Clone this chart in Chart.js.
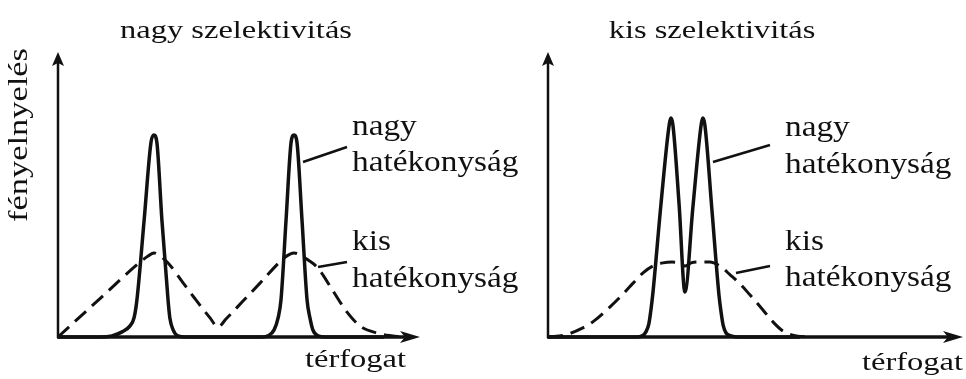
<!DOCTYPE html>
<html>
<head>
<meta charset="utf-8">
<script src="https://cdn.jsdelivr.net/npm/chart.js@4.4.1/dist/chart.umd.min.js"></script>
<style>
  html, body { margin: 0; padding: 0; background: #fff; }
  #wrap { position: relative; width: 966px; height: 379px; }
  #wrap canvas { position: absolute; left: 0; top: 0; }
</style>
</head>
<body>
<div id="wrap">
  <canvas id="left-chart" width="966" height="379"></canvas>
  <canvas id="right-chart" width="966" height="379"></canvas>
</div>
<script>
// texts
const panelTitles = ['nagy szelektivitás', 'kis szelektivitás'];
const seriesNames = ['nagy hatékonyság', 'kis hatékonyság'];
const xAxisLabel = 'térfogat';
const yAxisLabel = 'fényelnyelés';

// left panel: two well separated peaks
const leftSharpX = [0, 11.6, 14.9, 17.7, 19.9, 21.0, 21.8, 23.8, 25.7, 26.5, 27.3, 28.7, 30.4, 30.9, 31.8, 33.1, 35.4,
  56.4, 58.0, 59.7, 60.8, 61.6, 63.0, 64.4, 65.2, 66.0, 67.4, 68.8, 69.6, 70.4, 71.8, 74.0, 90];
const leftSharpY = [0, 0, 0.4, 1.8, 3.9, 6.7, 13.0, 41.1, 68.4, 70.9, 68.4, 41.1, 13.0, 6.7, 2.5, 0.4, 0,
  0, 0.4, 2.5, 6.7, 13.0, 41.1, 68.4, 70.9, 68.4, 41.1, 13.0, 6.7, 2.5, 0.4, 0, 0];
const leftBroadX = [0, 11.6, 22.7, 24.9, 26.5, 28.2, 30.4, 34.5, 37.8, 42.0, 44.2, 46.4, 51.1, 55.8,
  62.4, 64.1, 65.2, 66.9, 69.1, 71.8, 76.0, 79.8, 83.4, 88.1, 93.6, 97.2];
const leftBroadY = [0, 13.5, 26.3, 28.4, 29.5, 28.4, 26.0, 19.1, 13.5, 6.7, 3.5, 6.3, 12.6, 18.9,
  27.7, 29.1, 29.5, 28.8, 27.0, 24.2, 16.1, 8.8, 3.9, 1.4, 0.2, 0];

// right panel: two close peaks
const rightSharpX = [0, 21.2, 22.7, 23.6, 24.3, 24.8, 25.3, 27.2, 29.2, 29.6, 30.1, 31.6, 33.0, 34.9, 36.9, 37.3,
  37.8, 39.5, 41.2, 41.7, 42.2, 42.9, 44.1, 45.8, 60.7];
const rightSharpY = [0, 0, 0.4, 1.8, 4.6, 9.5, 15.8, 46.3, 74.4, 76.8, 74.4, 46.3, 15.8, 45.3, 74.4, 76.8,
  74.4, 44.6, 14.7, 8.8, 4.2, 1.4, 0.4, 0, 0];
const rightBroadX = [0, 4.1, 8.4, 10.8, 14.9, 18.1, 20.5, 22.9, 25.3, 27.7, 29.9, 31.6, 33.0, 34.5, 36.6, 39.0,
  41.4, 43.9, 46.3, 48.7, 51.8, 54.2, 56.6, 59.8, 63.1];
const rightBroadY = [0, 0.7, 3.2, 5.3, 10.5, 15.1, 18.9, 22.5, 24.9, 26.0, 26.3, 26.0, 24.9, 26.0, 26.3, 26.3,
  24.9, 21.8, 18.6, 14.7, 9.5, 5.3, 2.1, 0.4, 0];

const ink = '#111';
const serif = '"Liberation Serif", "Times New Roman", serif';

// where the annotation texts sit on the page
const panelLayout = [
  {
    pad: { left: 58, right: 546, top: 52, bottom: 42 },
    titleAt: [236, 38],
    nameX: 352, nameY: [[135, 171], [250, 287]],
    leaders: [[303, 162, 347, 147], [318, 267, 347, 262]],
    xLabelAt: [305, 367],
    yLabel: true
  },
  {
    pad: { left: 548, right: 3, top: 52, bottom: 42 },
    titleAt: [712, 38],
    nameX: 785, nameY: [[136, 173], [250, 286]],
    leaders: [[713, 162, 770, 145], [736, 273, 770, 266]],
    xLabelAt: [862, 370],
    yLabel: false
  }
];

function points(xs, ys) {
  return xs.map((v, i) => ({ x: v, y: ys[i] }));
}

function drawText(ctx, text, px, py, size, sx, align, angle) {
  ctx.save();
  ctx.translate(px, py);
  if (angle) ctx.rotate(angle);
  ctx.scale(sx, 1);
  ctx.font = `${size}px ${serif}`;
  ctx.textAlign = align;
  ctx.textBaseline = 'alphabetic';
  ctx.fillText(text, 0, 0);
  ctx.restore();
}

// axes with arrowheads, titles, curve names and leader lines
const figurePlugin = {
  id: 'figure',
  afterDatasetsDraw(chart, args, opts) {
    const { ctx, scales: { x, y } } = chart;
    const lay = opts.layout;
    const x0 = x.getPixelForValue(0), xEnd = x.getPixelForValue(x.max);
    const y0 = y.getPixelForValue(0), yEnd = y.getPixelForValue(y.max);

    ctx.save();
    ctx.strokeStyle = ink;
    ctx.fillStyle = ink;
    ctx.lineCap = 'butt';

    ctx.lineWidth = 2.5;
    ctx.beginPath();
    ctx.moveTo(x0, y0 + 1);
    ctx.lineTo(x0, yEnd + 8);
    ctx.stroke();

    ctx.lineWidth = 3.5;
    ctx.beginPath();
    ctx.moveTo(x0 - 1, y0);
    ctx.lineTo(xEnd - 10, y0);
    ctx.stroke();

    ctx.beginPath();
    ctx.moveTo(x0, yEnd);
    ctx.lineTo(x0 - 6, yEnd + 14);
    ctx.lineTo(x0, yEnd + 11);
    ctx.lineTo(x0 + 6, yEnd + 14);
    ctx.closePath();
    ctx.fill();

    ctx.beginPath();
    ctx.moveTo(xEnd, y0);
    ctx.lineTo(xEnd - 20, y0 - 6);
    ctx.lineTo(xEnd - 15, y0);
    ctx.lineTo(xEnd - 20, y0 + 6);
    ctx.closePath();
    ctx.fill();

    ctx.lineWidth = 2.5;
    lay.leaders.forEach(([ax, ay, bx, by]) => {
      ctx.beginPath();
      ctx.moveTo(ax, ay);
      ctx.lineTo(bx, by);
      ctx.stroke();
    });

    drawText(ctx, opts.title, lay.titleAt[0], lay.titleAt[1], 26, 1.25, 'center');
    seriesNames.forEach((name, i) => {
      const words = name.split(' ');
      words.forEach((w, j) => drawText(ctx, w, lay.nameX, lay.nameY[i][j], 30, 1.11, 'left'));
    });
    drawText(ctx, xAxisLabel, lay.xLabelAt[0], lay.xLabelAt[1], 26, 1.25, 'left');
    if (lay.yLabel) {
      drawText(ctx, yAxisLabel, 27, 135, 28, 1.23, 'center', -Math.PI / 2);
    }
    ctx.restore();
  }
};

function buildChart(id, idx, sharpX, sharpY, broadX, broadY) {
  const lay = panelLayout[idx];
  return new Chart(document.getElementById(id).getContext('2d'), {
    type: 'line',
    data: {
      datasets: [
        {
          label: seriesNames[0],
          data: points(sharpX, sharpY),
          borderColor: ink,
          borderWidth: 3.5,
          pointRadius: 0,
          cubicInterpolationMode: 'monotone',
          clip: false
        },
        {
          label: seriesNames[1],
          data: points(broadX, broadY),
          borderColor: ink,
          borderWidth: 3,
          borderDash: [15, 8],
          pointRadius: 0,
          cubicInterpolationMode: 'monotone',
          clip: false
        }
      ]
    },
    options: {
      responsive: false,
      animation: false,
      devicePixelRatio: 1,
      layout: { padding: lay.pad },
      scales: {
        x: { type: 'linear', min: 0, max: 100, display: false },
        y: { min: 0, max: 100, display: false }
      },
      plugins: {
        legend: { display: false },
        tooltip: { enabled: false },
        figure: { layout: lay, title: panelTitles[idx] }
      }
    },
    plugins: [figurePlugin]
  });
}

buildChart('left-chart', 0, leftSharpX, leftSharpY, leftBroadX, leftBroadY);
buildChart('right-chart', 1, rightSharpX, rightSharpY, rightBroadX, rightBroadY);
</script>
</body>
</html>
